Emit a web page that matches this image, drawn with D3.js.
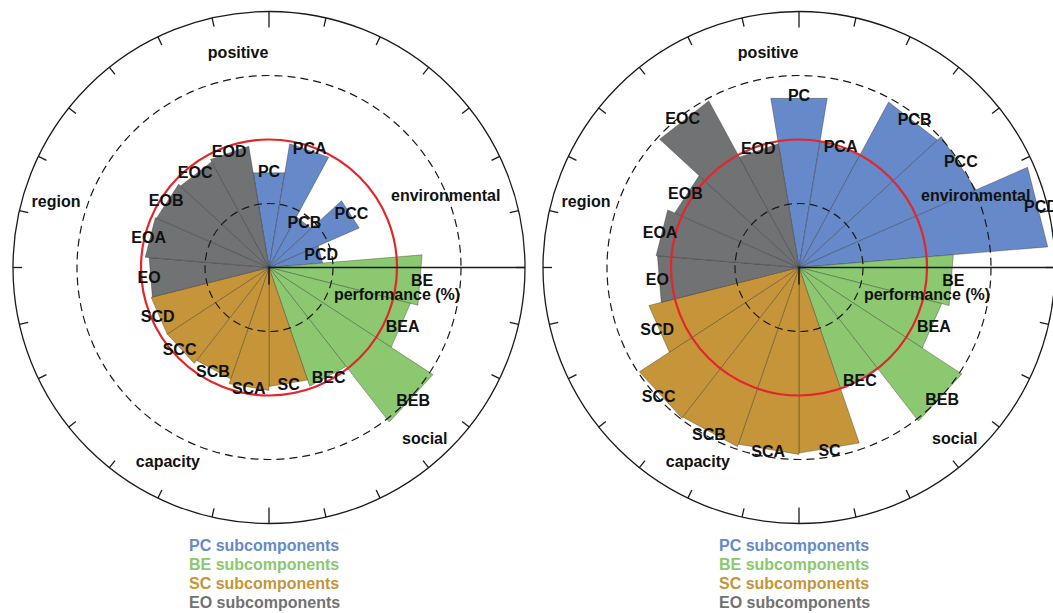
<!DOCTYPE html>
<html>
<head>
<meta charset="utf-8">
<script src="https://cdn.jsdelivr.net/npm/d3@7"></script>
<style>
  body { margin: 0; background: #fff; }
  svg { display: block; }
  text { font-family: "Liberation Sans", Arial, sans-serif; font-weight: bold; }
</style>
</head>
<body>
<svg id="chart" width="1053" height="613"></svg>
<script>
// Subcomponent categories, clockwise from 12 o'clock
const categories = ["PC", "PCA", "PCB", "PCC", "PCD",
                    "BE", "BEA", "BEB", "BEC",
                    "SC", "SCA", "SCB", "SCC", "SCD",
                    "EO", "EOA", "EOB", "EOC", "EOD"];
const groups = ["PC", "BE", "SC", "EO"];
const groupColors = ["#6689c9", "#8bc870", "#c69539", "#707273"];

// Performance (%) per subcomponent
const leftValues  = [75, 98, 45, 77, 42,
                     120, 114, 153, 98,
                     93, 96, 92, 95, 95,
                     94, 97, 96, 94, 96];
const rightValues = [134, 100, 147, 151, 195,
                     121, 115, 152, 100,
                     145, 146, 148, 149, 121,
                     111, 112, 106, 148, 98];

const ringValues = [50, 100, 150, 200];   // 100 % drawn as the red reference ring
const radialMax = 200;
const sectorLabels = ["positive", "environmental", "social", "capacity", "region"];
const legendLabels = ["PC subcomponents", "BE subcomponents", "SC subcomponents", "EO subcomponents"];
const axisTitle = "performance (%)";

// layout
const R = 256;
const centers = [[269, 267.5], [799, 267.5]];
const sectorLabelPos = [[351.8, 217], [67.7, 191], [137.6, 231], [207.5, 219], [287.2, 223]]; // [deg, px]
const tickCount = 28;

const svg = d3.select("#chart");
const step = 2 * Math.PI / categories.length;
const angle = d3.scaleBand().domain(categories)
  .range([-step / 2, 2 * Math.PI - step / 2]).padding(0);
const radius = d3.scaleLinear().domain([0, radialMax]).range([0, R]);
const color = c => groupColors[groups.indexOf(c.slice(0, 2))];
const pt = (a, r) => [r * Math.sin(a), -r * Math.cos(a)];
const wedge = d3.lineRadial().angle(d => d[0]).radius(d => d[1]).curve(d3.curveLinearClosed);

function drawChart(values, cx, cy) {
  const g = svg.append("g").attr("transform", `translate(${cx},${cy})`);
  const data = categories.map((c, i) => ({ c, v: values[i] }));

  // bars
  g.selectAll("path.bar").data(data).join("path")
    .attr("class", "bar")
    .attr("d", d => {
      const a0 = angle(d.c), a1 = a0 + angle.bandwidth(), r = radius(d.v);
      return wedge([[a0, 0], [a0, r], [a1, r]]);
    })
    .attr("fill", d => color(d.c))
    .attr("stroke", "rgba(30,30,30,0.55)")
    .attr("stroke-width", 0.6)
    .attr("stroke-linejoin", "miter");

  // rings
  g.selectAll("circle.ring").data(ringValues).join("circle")
    .attr("class", "ring")
    .attr("r", d => radius(d))
    .attr("fill", "none")
    .attr("stroke", d => d === 100 ? "#e3262b" : "#1a1a1a")
    .attr("stroke-width", d => d === 100 ? 2.2 : (d === radialMax ? 1.3 : 1.2))
    .attr("stroke-dasharray", d => (d === 100 || d === radialMax) ? null : "8,5");

  // angular ticks on the outer ring
  g.selectAll("line.tick").data(d3.range(tickCount)).join("line")
    .attr("class", "tick")
    .each(function (i) {
      const a = i * 2 * Math.PI / tickCount;
      const len = (i === 0 || i === tickCount / 2) ? 16 : 9;
      const p0 = pt(a, R), p1 = pt(a, R - len);
      d3.select(this).attr("x1", p0[0]).attr("y1", p0[1]).attr("x2", p1[0]).attr("y2", p1[1]);
    })
    .attr("stroke", "#1a1a1a").attr("stroke-width", 1.3);

  // radial axis
  g.append("line").attr("x1", 0).attr("y1", 0).attr("x2", R).attr("y2", 0)
    .attr("stroke", "#1a1a1a").attr("stroke-width", 1.3);
  g.append("line").attr("x1", 0).attr("y1", 0).attr("x2", 0).attr("y2", 17)
    .attr("stroke", "#1a1a1a").attr("stroke-width", 1.5);
  g.append("text").attr("x", radius(radialMax / 2)).attr("y", 27)
    .attr("text-anchor", "middle").attr("dominant-baseline", "central")
    .attr("font-size", 16).attr("fill", "#111").text(axisTitle);

  // category labels at bar tips
  g.selectAll("text.cat").data(data).join("text")
    .attr("class", "cat")
    .attr("x", d => pt(angle(d.c) + angle.bandwidth() / 2, radius(d.v))[0])
    .attr("y", d => pt(angle(d.c) + angle.bandwidth() / 2, radius(d.v))[1])
    .attr("text-anchor", "middle").attr("dominant-baseline", "central")
    .attr("font-size", 16).attr("fill", "#111")
    .text(d => d.c);

  // sector labels
  g.selectAll("text.sector").data(sectorLabels).join("text")
    .attr("class", "sector")
    .attr("x", (d, i) => pt(sectorLabelPos[i][0] * Math.PI / 180, sectorLabelPos[i][1])[0])
    .attr("y", (d, i) => pt(sectorLabelPos[i][0] * Math.PI / 180, sectorLabelPos[i][1])[1])
    .attr("text-anchor", "middle").attr("dominant-baseline", "central")
    .attr("font-size", 16).attr("fill", "#111")
    .text(d => d);

  // legend
  svg.append("g").attr("transform", `translate(${cx - 80},545)`)
    .selectAll("text").data(legendLabels).join("text")
    .attr("x", 0).attr("y", (d, i) => i * 19)
    .attr("dominant-baseline", "central")
    .attr("font-size", 16)
    .attr("fill", (d, i) => groupColors[i])
    .text(d => d);
}

drawChart(leftValues, centers[0][0], centers[0][1]);
drawChart(rightValues, centers[1][0], centers[1][1]);
</script>
</body>
</html>
